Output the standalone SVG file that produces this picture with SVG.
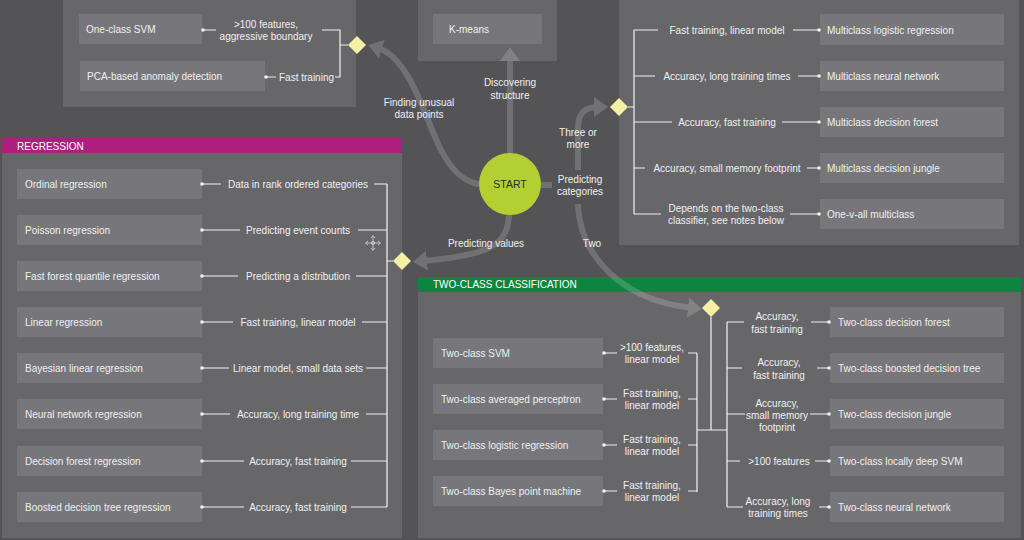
<svg xmlns="http://www.w3.org/2000/svg" width="1024" height="540" viewBox="0 0 1024 540">
<defs>
<style>
.bg{fill:#545457}
.panel{fill:#67676a}
.box{fill:#77777b}
.t{font-family:"Liberation Sans",Arial,sans-serif;font-size:10px;fill:#f0f0f0}
.m{text-anchor:middle}
.hd{font-family:"Liberation Sans",Arial,sans-serif;font-size:10px;fill:#ffffff}
.ln{stroke:#f2f2f2;stroke-width:1.2;fill:none}
.dot{fill:#f2f2f2}
.dia{fill:#f6f0a2}
.arr{stroke:#ffffff;stroke-width:6;fill:none}
</style>
<marker id="ah" markerUnits="userSpaceOnUse" markerWidth="16" markerHeight="22" viewBox="0 0 16 22" refX="4" refY="10" orient="auto">
<path d="M0 0 L14 10 L0 20 Z" fill="#ffffff"/>
</marker>
</defs>
<rect class="bg" x="0" y="0" width="1024" height="540"/>

<!-- panels -->
<g id="panel-anomaly"><rect class="panel" x="63" y="0" width="293" height="107"/></g>
<g id="panel-clustering"><rect class="panel" x="418" y="0" width="139" height="61"/></g>
<g id="panel-multiclass"><rect class="panel" x="619" y="0" width="400" height="245"/></g>
<g id="panel-regression">
<rect class="panel" x="2" y="153" width="400" height="385"/>
<rect x="2" y="138" width="400" height="15" fill="#ad1f7f"/>
<text class="hd" x="17" y="149.5">REGRESSION</text>
</g>
<g id="panel-twoclass">
<rect class="panel" x="418" y="291" width="603" height="247"/>
<rect x="418" y="277" width="603" height="15" fill="#0c8541"/>
<text class="hd" x="433" y="288">TWO-CLASS CLASSIFICATION</text>
</g>

<!-- main arrows -->
<g id="arrows" opacity="0.17">
<path class="arr" d="M510 153 L510 57" marker-end="url(#ah)"/>
<path class="arr" d="M479 184 C462 182 450 168 440 148 C425 118 410 58 378 48" marker-end="url(#ah)"/>
<path class="arr" d="M509 214 C508 245 490 255 423 261" marker-end="url(#ah)"/>
<path class="arr" d="M541 185 L552 185"/>
<path class="arr" d="M578 170 L578 128 C578 114 584 107 598 107" marker-end="url(#ah)"/>
<path class="arr" d="M578 204 C580 255 620 300 692 308" marker-end="url(#ah)"/>
</g>
<g id="arrow-labels">
<text class="t m" x="419" y="106">Finding unusual</text>
<text class="t m" x="419" y="118">data points</text>
<text class="t m" x="510" y="86">Discovering</text>
<text class="t m" x="510" y="99">structure</text>
<text class="t m" x="578" y="135.5">Three or</text>
<text class="t m" x="578" y="148">more</text>
<text class="t m" x="580" y="183">Predicting</text>
<text class="t m" x="580" y="195">categories</text>
<text class="t m" x="592" y="247">Two</text>
<text class="t m" x="486" y="247">Predicting values</text>
</g>

<!-- START -->
<g id="start">
<circle cx="510" cy="184" r="31" fill="#b3cf32"/>
<text x="510" y="187.5" text-anchor="middle" font-family="Liberation Sans, Arial, sans-serif" font-size="10.5" fill="#2a2a2a">START</text>
</g>

<!-- anomaly nodes -->
<g id="n-oneclass-svm"><rect class="box" x="79" y="14" width="123" height="30"/><text class="t" x="86" y="33">One-class SVM</text></g>
<g id="n-pca"><rect class="box" x="80" y="61" width="185" height="30"/><text class="t" x="87" y="79.5">PCA-based anomaly detection</text></g>
<g id="d-anomaly"><path class="dia" d="M357 36 L366 45 L357 54 L348 45 Z"/></g>

<!-- clustering -->
<g id="n-kmeans"><rect class="box" x="433" y="14" width="109" height="30"/><text class="t" x="449" y="33">K-means</text></g>

<!-- multiclass nodes -->
<g id="d-multiclass"><path class="dia" d="M619 98 L628 107 L619 116 L610 107 Z"/></g>
<g id="n-mc-logistic"><rect class="box" x="820" y="14" width="184" height="31"/><text class="t" x="827" y="33.5">Multiclass logistic regression</text></g>
<g id="n-mc-neural"><rect class="box" x="820" y="61" width="184" height="30"/><text class="t" x="827" y="79.5">Multiclass neural network</text></g>
<g id="n-mc-forest"><rect class="box" x="820" y="107" width="184" height="30"/><text class="t" x="827" y="125.5">Multiclass decision forest</text></g>
<g id="n-mc-jungle"><rect class="box" x="820" y="153" width="184" height="30"/><text class="t" x="827" y="171.5">Multiclass decision jungle</text></g>
<g id="n-mc-ovall"><rect class="box" x="820" y="199" width="184" height="30"/><text class="t" x="827" y="217.5">One-v-all multiclass</text></g>

<!-- regression nodes -->
<g id="d-regression"><path class="dia" d="M402 252 L411 261 L402 270 L393 261 Z"/></g>
<g id="n-reg-ordinal"><rect class="box" x="17" y="169" width="185" height="30"/><text class="t" x="25" y="187.5">Ordinal regression</text></g>
<g id="n-reg-poisson"><rect class="box" x="17" y="215" width="185" height="30"/><text class="t" x="25" y="233.5">Poisson regression</text></g>
<g id="n-reg-ffq"><rect class="box" x="17" y="261" width="185" height="30"/><text class="t" x="25" y="279.5">Fast forest quantile regression</text></g>
<g id="n-reg-linear"><rect class="box" x="17" y="307" width="185" height="30"/><text class="t" x="25" y="325.5">Linear regression</text></g>
<g id="n-reg-bayes"><rect class="box" x="17" y="353" width="185" height="30"/><text class="t" x="25" y="371.5">Bayesian linear regression</text></g>
<g id="n-reg-neural"><rect class="box" x="17" y="399" width="185" height="30"/><text class="t" x="25" y="417.5">Neural network regression</text></g>
<g id="n-reg-forest"><rect class="box" x="17" y="446" width="185" height="30"/><text class="t" x="25" y="464.5">Decision forest regression</text></g>
<g id="n-reg-boosted"><rect class="box" x="17" y="492" width="185" height="30"/><text class="t" x="25" y="510.5">Boosted decision tree regression</text></g>

<!-- two-class nodes -->
<g id="d-twoclass"><path class="dia" d="M711 299 L720 308 L711 317 L702 308 Z"/></g>
<g id="n-tc-svm"><rect class="box" x="433" y="338" width="170" height="30"/><text class="t" x="441" y="356.5">Two-class SVM</text></g>
<g id="n-tc-perceptron"><rect class="box" x="433" y="384" width="170" height="30"/><text class="t" x="441" y="402.5">Two-class averaged perceptron</text></g>
<g id="n-tc-logistic"><rect class="box" x="433" y="430" width="170" height="30"/><text class="t" x="441" y="448.5">Two-class logistic regression</text></g>
<g id="n-tc-bayes"><rect class="box" x="433" y="476" width="170" height="30"/><text class="t" x="441" y="494.5">Two-class Bayes point machine</text></g>
<g id="n-tc-forest"><rect class="box" x="830" y="307" width="174" height="30"/><text class="t" x="838" y="325.5">Two-class decision forest</text></g>
<g id="n-tc-boosted"><rect class="box" x="830" y="353" width="174" height="30"/><text class="t" x="838" y="371.5">Two-class boosted decision tree</text></g>
<g id="n-tc-jungle"><rect class="box" x="830" y="399" width="174" height="30"/><text class="t" x="838" y="417.5">Two-class decision jungle</text></g>
<g id="n-tc-ldsvm"><rect class="box" x="830" y="446" width="174" height="30"/><text class="t" x="838" y="464.5">Two-class locally deep SVM</text></g>
<g id="n-tc-neural"><rect class="box" x="830" y="492" width="174" height="30"/><text class="t" x="838" y="510.5">Two-class neural network</text></g>

<!-- connectors -->
<g id="connectors">
<!-- anomaly -->
<path class="ln" d="M202 30 H216 M322 30 H340 V77 H335 M265 77 H276 M340 45 H348"/>
<circle class="dot" cx="203" cy="30" r="1.8"/><circle class="dot" cx="266" cy="77" r="1.8"/>
<text class="t m" x="266" y="27.5">&gt;100 features,</text>
<text class="t m" x="266" y="39.5">aggressive boundary</text>
<text class="t" x="279" y="80.5">Fast training</text>

<!-- multiclass -->
<path class="ln" d="M628 107 H634 M634 30 V214 M634 30 H658 M793 30 H819 M634 76 H655 M798 76 H819 M634 122 H672 M782 122 H819 M634 168 H645 M807 168 H819 M634 214 H661 M790 214 H819"/>
<circle class="dot" cx="819" cy="30" r="1.8"/><circle class="dot" cx="819" cy="76" r="1.8"/><circle class="dot" cx="819" cy="122" r="1.8"/><circle class="dot" cx="819" cy="168" r="1.8"/><circle class="dot" cx="819" cy="214" r="1.8"/>
<text class="t m" x="727" y="33.5">Fast training, linear model</text>
<text class="t m" x="727" y="79.5">Accuracy, long training times</text>
<text class="t m" x="727" y="125.5">Accuracy, fast training</text>
<text class="t m" x="727" y="171.5">Accuracy, small memory footprint</text>
<text class="t m" x="726" y="211.5">Depends on the two-class</text>
<text class="t m" x="726" y="223.5">classifier, see notes below</text>

<!-- regression -->
<path class="ln" d="M387 184 V507 M387 261 H393 M202 184 H221 M374 184 H387 M202 230 H240 M358 230 H387 M202 276 H238 M356 276 H387 M202 322 H233 M362 322 H387 M202 368 H229 M366 368 H387 M202 414 H230 M366 414 H387 M202 461 H244 M351 461 H387 M202 507 H244 M351 507 H387"/>
<circle class="dot" cx="202" cy="184" r="1.8"/><circle class="dot" cx="202" cy="230" r="1.8"/><circle class="dot" cx="202" cy="276" r="1.8"/><circle class="dot" cx="202" cy="322" r="1.8"/><circle class="dot" cx="202" cy="368" r="1.8"/><circle class="dot" cx="202" cy="414" r="1.8"/><circle class="dot" cx="202" cy="461" r="1.8"/><circle class="dot" cx="202" cy="507" r="1.8"/>
<text class="t m" x="298" y="187.5">Data in rank ordered categories</text>
<text class="t m" x="298" y="233.5">Predicting event counts</text>
<text class="t m" x="298" y="279.5">Predicting a distribution</text>
<text class="t m" x="298" y="325.5">Fast training, linear model</text>
<text class="t m" x="298" y="371.5">Linear model, small data sets</text>
<text class="t m" x="298" y="417.5">Accuracy, long training time</text>
<text class="t m" x="298" y="464.5">Accuracy, fast training</text>
<text class="t m" x="298" y="510.5">Accuracy, fast training</text>

<!-- two-class -->
<path class="ln" d="M711 317 V430 M697 430 H727 M697 353 V492 M727 322 V507 M603 353 H617 M688 353 H697 M603 399 H617 M688 399 H697 M603 445 H617 M688 445 H697 M603 491 H617 M688 491 H697 M727 322 H744 M811 322 H829 M727 368 H742 M817 368 H829 M727 414 H745 M810 414 H829 M727 461 H740 M815 461 H829 M727 507 H743 M819 507 H829"/>
<circle class="dot" cx="604" cy="353" r="1.8"/><circle class="dot" cx="604" cy="399" r="1.8"/><circle class="dot" cx="604" cy="445" r="1.8"/><circle class="dot" cx="604" cy="491" r="1.8"/>
<circle class="dot" cx="829" cy="322" r="1.8"/><circle class="dot" cx="829" cy="368" r="1.8"/><circle class="dot" cx="829" cy="414" r="1.8"/><circle class="dot" cx="829" cy="461" r="1.8"/><circle class="dot" cx="829" cy="507" r="1.8"/>
<text class="t m" x="652" y="350.5">&gt;100 features,</text>
<text class="t m" x="652" y="362.5">linear model</text>
<text class="t m" x="652" y="396.5">Fast training,</text>
<text class="t m" x="652" y="408.5">linear model</text>
<text class="t m" x="652" y="442.5">Fast training,</text>
<text class="t m" x="652" y="454.5">linear model</text>
<text class="t m" x="652" y="488.5">Fast training,</text>
<text class="t m" x="652" y="500.5">linear model</text>
<text class="t m" x="777" y="319.5">Accuracy,</text>
<text class="t m" x="777" y="332.5">fast training</text>
<text class="t m" x="779" y="365.5">Accuracy,</text>
<text class="t m" x="779" y="378.5">fast training</text>
<text class="t m" x="777" y="406.5">Accuracy,</text>
<text class="t m" x="777" y="418.5">small memory</text>
<text class="t m" x="777" y="430.5">footprint</text>
<text class="t m" x="779" y="464.5">&gt;100 features</text>
<text class="t m" x="778" y="504.5">Accuracy, long</text>
<text class="t m" x="778" y="516.5">training times</text>
</g>

<!-- move cursor glyph -->
<g id="move-icon" fill="none" stroke="#d6d6d6" stroke-width="0.8">
<path d="M373 236 V250 M366 243 H380"/>
<path d="M371 238 L373 235.5 L375 238 M371 248 L373 250.5 L375 248 M368 241 L365.5 243 L368 245 M378 241 L380.5 243 L378 245"/>
<circle cx="373" cy="243" r="1.6"/>
</g>
</svg>
